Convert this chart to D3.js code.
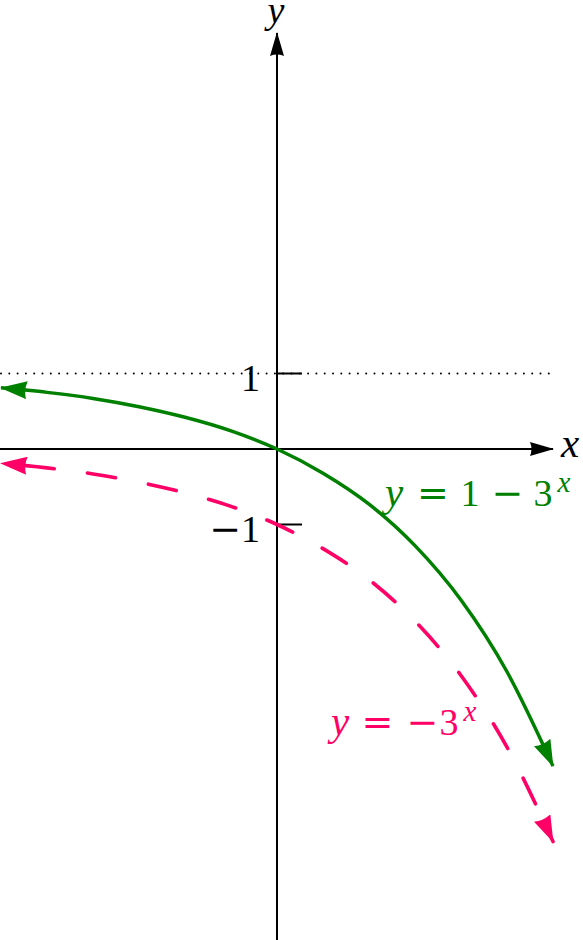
<!DOCTYPE html>
<html>
<head>
<meta charset="utf-8">
<script src="https://cdn.jsdelivr.net/npm/d3@7"></script>
<style>
  body { margin: 0; background: #fff; }
  text { font-family: "Liberation Serif", "DejaVu Serif", serif; }
  .op { font-family: "DejaVu Serif", serif; }
</style>
</head>
<body>
<svg id="s1"></svg>
<script>
// values
var xs = [-1.5, -1.25, -1, -0.75, -0.5, -0.25, 0, 0.25, 0.5, 0.75, 1, 1.25, 1.5];
var greenYs = [0.81, 0.75, 0.67, 0.56, 0.42, 0.24, 0, -0.32, -0.73, -1.28, -2, -2.95, -4.2];
var pinkYs = [-0.19, -0.25, -0.33, -0.44, -0.58, -0.76, -1, -1.32, -1.73, -2.28, -3, -3.95, -5.2];
var yTicks = [1, -1];
var asymptote = 1;

var width = 583;
var height = 940;

var svg = d3.select("#s1").attr("width", width).attr("height", height);

var x = d3.scaleLinear().domain([-1.5, 1.5]).range([1, 553]);
var y = d3.scaleLinear().domain([1, -1]).range([373.5, 524.5]);

var green = "#008000";
var pink = "#ff0066";

// arrow heads (latex style)
var defs = svg.append("defs");
function arrow(id, color, len, half) {
    defs.append("marker")
        .attr("id", id)
        .attr("viewBox", [0, -half, len, 2 * half].join(" "))
        .attr("refX", len - 1)
        .attr("refY", 0)
        .attr("markerWidth", len)
        .attr("markerHeight", 2 * half)
        .attr("markerUnits", "userSpaceOnUse")
        .attr("orient", "auto-start-reverse")
        .append("path")
        .attr("d", "M" + len + ",0 L0," + (-half) +
            " Q" + (len * 0.12) + ",0 0," + half + " Z")
        .style("fill", color);
}
arrow("aBlack", "#000", 24, 7);
arrow("aGreen", green, 27, 9);
arrow("aPink", pink, 27, 9);

// dotted asymptote
svg.append("line")
    .attr("x1", 1).attr("x2", 553)
    .attr("y1", y(asymptote)).attr("y2", y(asymptote))
    .style("stroke", "#000")
    .style("stroke-width", 2)
    .style("stroke-linecap", "round")
    .style("stroke-dasharray", "0 8.3");

// axes
svg.append("line")
    .attr("x1", 0).attr("x2", 553)
    .attr("y1", y(0)).attr("y2", y(0))
    .style("stroke", "#000").style("stroke-width", 2)
    .attr("marker-end", "url(#aBlack)");

svg.append("line")
    .attr("x1", x(0)).attr("x2", x(0))
    .attr("y1", height).attr("y2", 33)
    .style("stroke", "#000").style("stroke-width", 2)
    .attr("marker-end", "url(#aBlack)");

svg.selectAll(".tick")
    .data(yTicks)
    .enter().append("line")
    .attr("class", "tick")
    .attr("x1", x(0)).attr("x2", x(0) + 25)
    .attr("y1", function (d) { return y(d); })
    .attr("y2", function (d) { return y(d); })
    .style("stroke", "#000").style("stroke-width", 2);

var tickLabels = svg.selectAll(".ticklabel")
    .data(yTicks)
    .enter().append("text")
    .attr("class", "ticklabel")
    .attr("x", x(0) - 17)
    .attr("y", function (d) { return y(d) + 17; })
    .attr("text-anchor", "end")
    .style("font-size", "38px");
tickLabels.filter(function (d) { return d < 0; })
    .append("tspan").attr("class", "op").text("\u2212");
tickLabels.append("tspan").text(function (d) { return Math.abs(d); });

svg.append("text")
    .attr("x", 561).attr("y", 457)
    .style("font-size", "41px").style("font-style", "italic")
    .text("x");

svg.append("text")
    .attr("x", 276).attr("y", 23)
    .attr("text-anchor", "middle")
    .style("font-size", "38px").style("font-style", "italic")
    .text("y");

// curves
var line = d3.line()
    .x(function (d) { return x(d[0]); })
    .y(function (d) { return y(d[1]); })
    .curve(d3.curveMonotoneX);

svg.append("path")
    .datum(xs.map(function (v, i) { return [v, greenYs[i]]; }))
    .attr("d", line)
    .style("fill", "none")
    .style("stroke", green)
    .style("stroke-width", 3.5)
    .attr("marker-start", "url(#aGreen)")
    .attr("marker-end", "url(#aGreen)");

svg.append("path")
    .datum(xs.map(function (v, i) { return [v, pinkYs[i]]; }))
    .attr("d", line)
    .style("fill", "none")
    .style("stroke", pink)
    .style("stroke-width", 3.6)
    .style("stroke-linecap", "round")
    .style("stroke-dasharray", "28.5 33.5")
    .style("stroke-dashoffset", 37)
    .attr("marker-start", "url(#aPink)")
    .attr("marker-end", "url(#aPink)");

// curve labels, one glyph at a time (centre x of each glyph)
function label(base, color, parts) {
    var g = svg.append("g").style("fill", color);
    parts.forEach(function (p) {
        var t = g.append("text")
            .attr("x", p.cx)
            .attr("y", base + (p.sup ? -14 : 0))
            .attr("text-anchor", "middle")
            .style("font-size", p.sup ? "29px" : (p.it ? "41px" : "38px"))
            .text(p.s);
        if (p.it) t.style("font-style", "italic");
        if (p.op) t.attr("class", "op");
    });
}
label(506, green, [
    { s: "y", cx: 394, it: true },
    { s: "=", cx: 433, op: true },
    { s: "1", cx: 470 },
    { s: "\u2212", cx: 507.5, op: true },
    { s: "3", cx: 543 },
    { s: "x", cx: 564, it: true, sup: true }
]);
label(735, pink, [
    { s: "y", cx: 340, it: true },
    { s: "=", cx: 377.5, op: true },
    { s: "\u2212", cx: 422.5, op: true },
    { s: "3", cx: 449 },
    { s: "x", cx: 470, it: true, sup: true }
]);
</script>
</body>
</html>
